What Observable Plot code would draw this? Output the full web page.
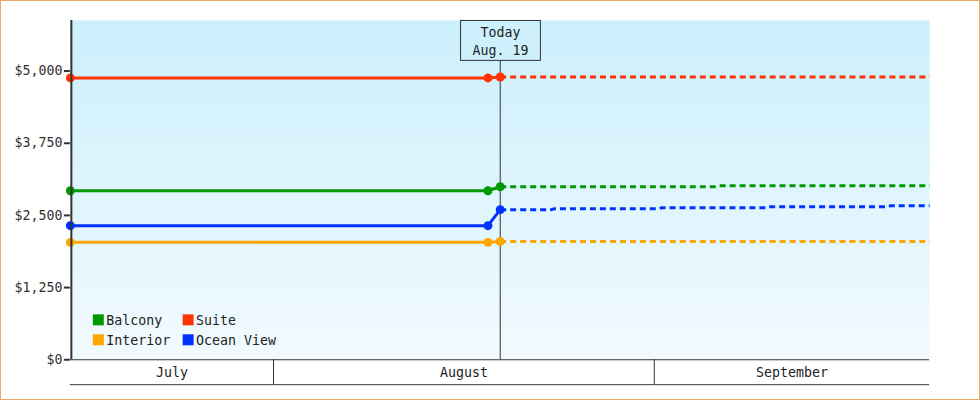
<!DOCTYPE html>
<html>
<head>
<meta charset="utf-8">
<script src="https://cdn.jsdelivr.net/npm/d3@7"></script>
<script src="https://cdn.jsdelivr.net/npm/@observablehq/plot@0.6"></script>
<style>
  html, body { margin: 0; padding: 0; background: #fff; }
  #wrap { position: relative; width: 980px; height: 400px; box-sizing: border-box; border: 1px solid #eaa966; }
  #wrap svg { position: absolute; left: -1px; top: -1px; }
</style>
</head>
<body>
<div id="wrap"></div>
<script>
// ---- data ----
const seriesNames = ["Balcony", "Suite", "Interior", "Ocean View"];
const seriesColors = ["#009900", "#ff3300", "#ffa500", "#0033ff"];

const historyDates = ["2024-07-15T11:00Z", "2024-08-18T11:00Z", "2024-08-19T11:00Z"];
const balconyHistory = [2927, 2927, 2997];
const suiteHistory = [4881, 4881, 4897];
const interiorHistory = [2033, 2033, 2048];
const oceanHistory = [2322, 2322, 2599];

const balconyForecastDates = ["2024-08-19T11:00Z", "2024-09-05T22:00Z", "2024-09-06T06:00Z", "2024-09-23T10:00Z"];
const balconyForecast = [2997, 2997, 3013, 3013];
const suiteForecastDates = ["2024-08-19T11:00Z", "2024-09-23T10:00Z"];
const suiteForecast = [4897, 4897];
const interiorForecastDates = ["2024-08-19T11:00Z", "2024-09-23T10:00Z"];
const interiorForecast = [2048, 2048];
const oceanForecastDates = ["2024-08-19T11:00Z", "2024-08-23T15:00Z", "2024-08-23T21:00Z", "2024-09-01T09:00Z", "2024-09-01T15:00Z",
  "2024-09-10T02:00Z", "2024-09-10T08:00Z", "2024-09-20T00:00Z", "2024-09-20T06:00Z", "2024-09-23T10:00Z"];
const oceanForecast = [2599, 2599, 2616, 2616, 2633, 2633, 2650, 2650, 2668, 2668];

const todayDate = "2024-08-19T11:00Z";
const todayLabel = ["Today", "Aug. 19"];

const monthNames = ["July", "August", "September"];
const monthStarts = ["2024-07-01", "2024-08-01", "2024-09-01", "2024-10-01"];

const yTicks = [0, 1250, 2500, 3750, 5000];

// ---- tables ----
const histories = [balconyHistory, suiteHistory, interiorHistory, oceanHistory];
const forecasts = [
  [balconyForecastDates, balconyForecast],
  [suiteForecastDates, suiteForecast],
  [interiorForecastDates, interiorForecast],
  [oceanForecastDates, oceanForecast]
];
const history = [];
seriesNames.forEach((s, i) => historyDates.forEach((d, j) => history.push({series: s, date: new Date(d), value: histories[i][j]})));
const forecast = [];
seriesNames.forEach((s, i) => forecasts[i][0].forEach((d, j) => forecast.push({series: s, date: new Date(d), value: forecasts[i][1][j]})));

const all = history.concat(forecast);
const xDomain = d3.extent(all, d => d.date);
const yMax = d3.max(all, d => d.value) * 1.2;
const today = new Date(todayDate);

const months = monthNames.map((m, i) => {
  const a = new Date(Math.max(+new Date(monthStarts[i]), +xDomain[0]));
  const b = new Date(Math.min(+new Date(monthStarts[i + 1]), +xDomain[1]));
  return {name: m, mid: new Date((+a + +b) / 2)};
});
const boundaries = monthStarts.map(d => new Date(d)).filter(d => d > xDomain[0] && d < xDomain[1]);

const color = {domain: seriesNames, range: seriesColors};
const FONT = "'DejaVu Sans Mono', monospace";
const FS = "13.3px";

const plot = Plot.plot({
  width: 980,
  height: 400,
  marginLeft: 70,
  marginRight: 49,
  marginTop: 20,
  marginBottom: 40,
  style: {fontFamily: FONT, fontSize: FS, background: "transparent", color: "#333", overflow: "visible"},
  x: {type: "utc", domain: xDomain},
  y: {domain: [0, yMax]},
  color,
  marks: [
    Plot.frame({fill: "url(#plotbg)", stroke: "none"}),
    Plot.ruleX([today], {stroke: "#333", strokeWidth: 1}),
    Plot.line(history, {x: "date", y: "value", z: "series", stroke: "series", strokeWidth: 3, strokeLinecap: "butt"}),
    Plot.line(forecast, {x: "date", y: "value", z: "series", stroke: "series", strokeWidth: 3, strokeDasharray: "6,4", strokeLinecap: "butt", strokeLinejoin: "miter"}),
    Plot.dot(history, {x: "date", y: "value", fill: "series", r: 4.5}),
    Plot.ruleY([0], {stroke: "#333", strokeWidth: 1}),
    Plot.ruleY([0], {stroke: "#333", strokeWidth: 1, dy: 25}),
    Plot.ruleX([xDomain[0]], {stroke: "#333", strokeWidth: 2, dx: 1}),
    Plot.axisY({ticks: yTicks, tickFormat: d3.format("$,.0f"), tickSize: 6, tickPadding: 2, color: "#333", strokeWidth: 2, label: null, fontSize: FS}),
    Plot.axisX({ticks: boundaries, tickSize: 25, tickFormat: () => "", color: "#333", label: null}),
    Plot.text(months, {x: "mid", text: "name", frameAnchor: "bottom", dy: 13, fill: "#222", lineAnchor: "middle", fontSize: FS})
  ]
});

document.getElementById("wrap").appendChild(plot);

// gradient background
const svg = d3.select(plot);
const defs = svg.insert("defs", ":first-child");
const grad = defs.append("linearGradient").attr("id", "plotbg").attr("x1", 0).attr("y1", 0).attr("x2", 0).attr("y2", 1);
grad.append("stop").attr("offset", "0%").attr("stop-color", "#cbeffc");
grad.append("stop").attr("offset", "100%").attr("stop-color", "#f2fafe");

// today annotation box
const xs = plot.scale("x");
const xScale = xs.apply ? (d => xs.apply(d)) : d3.scaleUtc(xs.domain, xs.range);
const tx = Math.round(xScale(today)) + 0.5;
const g = svg.append("g").attr("text-anchor", "middle");
g.append("rect").attr("x", tx - 40).attr("y", 20.5).attr("width", 80).attr("height", 40)
  .attr("fill", "#cdf0fc").attr("stroke", "#333").attr("stroke-width", 1);
todayLabel.forEach((t, i) => {
  g.append("text").attr("x", tx).attr("y", 37 + i * 18).attr("text-anchor", "middle")
    .attr("fill", "#222").style("font-size", FS).text(t);
});

// legend inside plot
const lg = svg.append("g").attr("text-anchor", "start");
seriesNames.forEach((name, i) => {
  const col = i % 2, row = Math.floor(i / 2);
  const lx = 93 + col * 90, ly = 315 + row * 20;
  lg.append("rect").attr("x", lx).attr("y", ly).attr("width", 11).attr("height", 11).attr("fill", seriesColors[i]);
  lg.append("text").attr("x", lx + 13.5).attr("y", ly + 10.5).attr("text-anchor", "start")
    .attr("fill", "#222").style("font-size", FS).text(name);
});
</script>
</body>
</html>
